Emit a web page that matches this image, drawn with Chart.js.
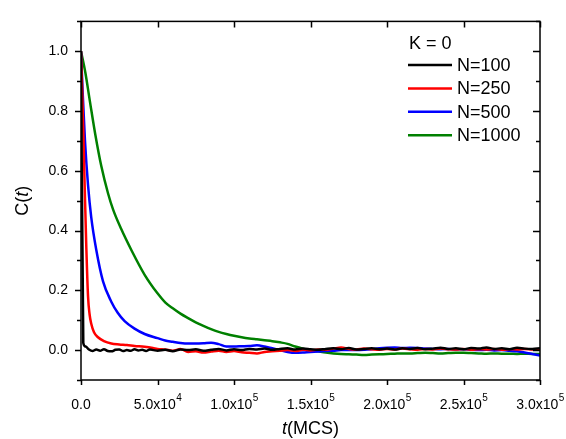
<!DOCTYPE html>
<html>
<head>
<meta charset="utf-8">
<script src="https://cdn.jsdelivr.net/npm/chart.js@4.4.1/dist/chart.umd.min.js"></script>
<style>
    html, body { margin: 0; padding: 0; background: #fff; }
    #chart { display: block; }
</style>
</head>
<body>
<canvas id="chart" width="566" height="439"></canvas>
<script>
// ============= DATA =============

// Shared time grid for the long tail (MCS)
const tailTimes = [
    55000, 60000, 65000, 70000, 75000, 80000, 85000, 90000, 95000, 100000,
    105000, 110000, 115000, 120000, 125000, 130000, 135000, 140000, 145000, 150000,
    155000, 160000, 165000, 170000, 175000, 180000, 185000, 190000, 195000, 200000,
    205000, 210000, 215000, 220000, 225000, 230000, 235000, 240000, 245000, 250000,
    255000, 260000, 265000, 270000, 275000, 280000, 285000, 290000, 295000, 300000
];

// N=100
const n100HeadT = [0, 1500, 3000, 5000, 7500, 10000, 12500, 15000, 17500, 20000, 22500,
    25000, 27500, 30000, 32500, 35000, 37500, 40000, 42500, 45000, 47500, 50000];
const n100HeadC = [1.0, 0.024, 0.012, 0.003, -0.003, 0.002, -0.002, 0.003, -0.003, -0.004, 0.001,
    0.002, -0.003, 0.0, -0.002, 0.003, -0.001, 0.001, -0.003, 0.002, 0.0, -0.002];
const n100TailC = [
    0.001, -0.004, 0.002, 0.0, 0.003, -0.002, 0.001, 0.004, -0.001, 0.003,
    0.0, 0.004, 0.002, 0.005, 0.001, 0.004, 0.006, 0.002, 0.005, 0.003,
    0.001, 0.004, 0.006, 0.003, 0.007, 0.002, 0.004, 0.006, 0.003, 0.005,
    0.002, 0.006, 0.004, 0.007, 0.003, 0.005, 0.008, 0.004, 0.006, 0.003,
    0.007, 0.005, 0.009, 0.004, 0.006, 0.003, 0.008, 0.005, 0.004, 0.006
];

// N=250
const n250HeadT = [0, 700, 1500, 2400, 3500, 4600, 5600, 6700, 8500, 11100, 15000,
    19800, 25000, 30000, 35000, 41600, 47000, 50000];
const n250HeadC = [1.0, 0.88, 0.73, 0.55, 0.34, 0.18, 0.12, 0.088, 0.06, 0.043, 0.03,
    0.022, 0.019, 0.017, 0.014, 0.011, 0.007, 0.004];
const n250TailC = [
    0.002, -0.002, 0.004, -0.006, -0.004, -0.008, -0.005, -0.002, -0.006, -0.003,
    -0.007, -0.009, -0.011, -0.006, -0.004, -0.002, 0.0, -0.003, 0.001, -0.001,
    0.002, 0.001, 0.005, 0.009, 0.004, 0.002, 0.005, 0.003, 0.001, 0.004,
    0.002, 0.005, 0.003, 0.001, 0.004, 0.002, 0.005, 0.003, 0.002, 0.004,
    0.001, 0.003, 0.002, 0.004, 0.001, 0.003, 0.002, 0.004, 0.002, 0.003
];

// N=500
const n500HeadT = [0, 1200, 2600, 4600, 6700, 10000, 14400, 19800, 24000, 28500,
    35000, 41600, 50000];
const n500HeadC = [1.0, 0.85, 0.70, 0.552, 0.444, 0.335, 0.23, 0.162, 0.125, 0.097,
    0.072, 0.054, 0.04];
const n500TailC = [
    0.032, 0.028, 0.024, 0.022, 0.022, 0.023, 0.025, 0.02, 0.012, 0.012,
    0.013, 0.014, 0.016, 0.012, 0.006, 0.0, -0.006, -0.009, -0.008, -0.006,
    -0.005, -0.003, -0.002, 0.0, 0.0, 0.0, 0.001, 0.003, 0.006, 0.008,
    0.009, 0.007, 0.008, 0.007, 0.005, 0.004, 0.003, 0.004, 0.002, 0.003,
    0.001, 0.0, 0.001, -0.001, 0.0, -0.002, -0.004, -0.008, -0.013, -0.018
];

// N=1000
const n1000HeadT = [0, 2800, 5900, 9400, 13300, 17650, 21000, 26300, 32900, 41600, 50000];
const n1000HeadC = [1.0, 0.93, 0.83, 0.72, 0.615, 0.525, 0.47, 0.405, 0.335, 0.252, 0.19];
const n1000TailC = [
    0.16, 0.14, 0.122, 0.107, 0.093, 0.081, 0.07, 0.061, 0.054, 0.048,
    0.043, 0.039, 0.036, 0.033, 0.03, 0.026, 0.021, 0.012, 0.005, 0.0,
    -0.004, -0.008, -0.011, -0.013, -0.014, -0.015, -0.016, -0.015, -0.014, -0.013,
    -0.012, -0.011, -0.011, -0.01, -0.009, -0.01, -0.011, -0.01, -0.009, -0.009,
    -0.01, -0.011, -0.012, -0.011, -0.012, -0.012, -0.013, -0.012, -0.013, -0.013
];

const seriesLabels = ['N=100', 'N=250', 'N=500', 'N=1000'];
const seriesColors = ['#000000', '#ff0000', '#0000ff', '#008000'];
const xTickValues = [0, 50000, 100000, 150000, 200000, 250000, 300000];

// ============= HELPERS =============

const FONT = "'Liberation Sans', Arial, sans-serif";

// Join head + tail into {x, y} points
function toPoints(headT, headC, tailC) {
    const pts = headT.map((t, i) => ({ x: t, y: headC[i] }));
    tailTimes.forEach((t, i) => pts.push({ x: t, y: tailC[i] }));
    return pts;
}

const seriesData = [
    toPoints(n100HeadT, n100HeadC, n100TailC),
    toPoints(n250HeadT, n250HeadC, n250TailC),
    toPoints(n500HeadT, n500HeadC, n500TailC),
    toPoints(n1000HeadT, n1000HeadC, n1000TailC)
];

// Draw text made of [text, italic] parts, centered on x
function drawParts(ctx, parts, x, y, size) {
    let total = 0;
    parts.forEach(p => {
        ctx.font = (p[1] ? 'italic ' : '') + size + 'px ' + FONT;
        total += ctx.measureText(p[0]).width;
    });
    let cx = x - total / 2;
    parts.forEach(p => {
        ctx.font = (p[1] ? 'italic ' : '') + size + 'px ' + FONT;
        ctx.fillText(p[0], cx, y);
        cx += ctx.measureText(p[0]).width;
    });
}

// Frame, ticks, x labels with exponents, axis titles, legend
const decorPlugin = {
    id: 'decor',
    afterDraw(chart) {
        const ctx = chart.ctx;
        const { left, right, top, bottom } = chart.chartArea;
        const xs = chart.scales.x;
        const ys = chart.scales.y;

        ctx.save();
        ctx.strokeStyle = '#000';
        ctx.fillStyle = '#000';
        ctx.lineWidth = 1.5;
        ctx.strokeRect(left, top, right - left, bottom - top);

        // y ticks: left outward, right inward
        for (let k = -1; k <= 11; k++) {
            const py = Math.round(ys.getPixelForValue(k / 10)) + 0.5;
            const major = k % 2 === 0;
            ctx.beginPath();
            ctx.moveTo(left - (major ? 6 : 4), py);
            ctx.lineTo(left, py);
            ctx.moveTo(right, py);
            ctx.lineTo(right - (major ? 7 : 4), py);
            ctx.stroke();
        }

        // x ticks: bottom outward, top inward
        xTickValues.forEach(v => {
            const px = Math.round(xs.getPixelForValue(v)) + 0.5;
            ctx.beginPath();
            ctx.moveTo(px, bottom);
            ctx.lineTo(px, bottom + 5);
            ctx.moveTo(px, top);
            ctx.lineTo(px, top + 6);
            ctx.stroke();
        });

        // x tick labels like 5.0x10^4
        ctx.textBaseline = 'alphabetic';
        ctx.textAlign = 'left';
        xTickValues.forEach(v => {
            const px = xs.getPixelForValue(v);
            let main = '0.0';
            let sup = '';
            if (v > 0) {
                const exp = Math.floor(Math.log10(v));
                main = (v / Math.pow(10, exp)).toFixed(1) + 'x10';
                sup = String(exp);
            }
            ctx.font = '14px ' + FONT;
            const wMain = ctx.measureText(main).width;
            ctx.font = '10px ' + FONT;
            const wSup = sup ? ctx.measureText(sup).width : 0;
            const x0 = px - (wMain + wSup) / 2;
            ctx.font = '14px ' + FONT;
            ctx.fillText(main, x0, 409);
            if (sup) {
                ctx.font = '10px ' + FONT;
                ctx.fillText(sup, x0 + wMain + 0.5, 401);
            }
        });

        // axis titles
        drawParts(ctx, [['t', true], ['(MCS)', false]], (left + right) / 2, 434, 18);
        ctx.save();
        ctx.translate(28, (top + bottom) / 2);
        ctx.rotate(-Math.PI / 2);
        drawParts(ctx, [['C(', false], ['t', true], [')', false]], 0, 0, 18);
        ctx.restore();

        // legend
        ctx.font = '18px ' + FONT;
        ctx.fillText('K = 0', 409, 49);
        ctx.textBaseline = 'middle';
        seriesLabels.forEach((label, i) => {
            const ly = 65 + i * 23.4;
            ctx.strokeStyle = seriesColors[i];
            ctx.lineWidth = 2.5;
            ctx.beginPath();
            ctx.moveTo(408, ly);
            ctx.lineTo(452, ly);
            ctx.stroke();
            ctx.fillText(label, 457, ly + 1);
        });
        ctx.restore();
    }
};

// ============= CHART =============

new Chart(document.getElementById('chart'), {
    type: 'line',
    data: {
        datasets: seriesLabels.map((label, i) => ({
            label: label,
            data: seriesData[i],
            borderColor: seriesColors[i],
            backgroundColor: seriesColors[i],
            borderWidth: 2.5,
            pointRadius: 0,
            cubicInterpolationMode: 'monotone',
            fill: false
        }))
    },
    options: {
        responsive: false,
        animation: false,
        layout: { padding: { top: 12, right: 26, left: 0, bottom: 0 } },
        plugins: {
            legend: { display: false },
            tooltip: { enabled: false }
        },
        scales: {
            x: {
                type: 'linear',
                min: 0,
                max: 300000,
                ticks: { stepSize: 50000, callback: () => '' },
                grid: { display: false },
                border: { display: false },
                afterFit: scale => { scale.height = 59; }
            },
            y: {
                min: -0.1,
                max: 1.1,
                ticks: {
                    stepSize: 0.1,
                    padding: 13,
                    color: '#000',
                    font: { family: FONT, size: 14 },
                    callback: function(value) {
                        const v = Math.round(value * 10);
                        if (v < 0 || v % 2 !== 0) return '';
                        return (v / 10).toFixed(1);
                    }
                },
                grid: { display: false, drawTicks: false },
                border: { display: false },
                afterFit: scale => { scale.width = 81; }
            }
        }
    },
    plugins: [decorPlugin]
});
</script>
</body>
</html>
